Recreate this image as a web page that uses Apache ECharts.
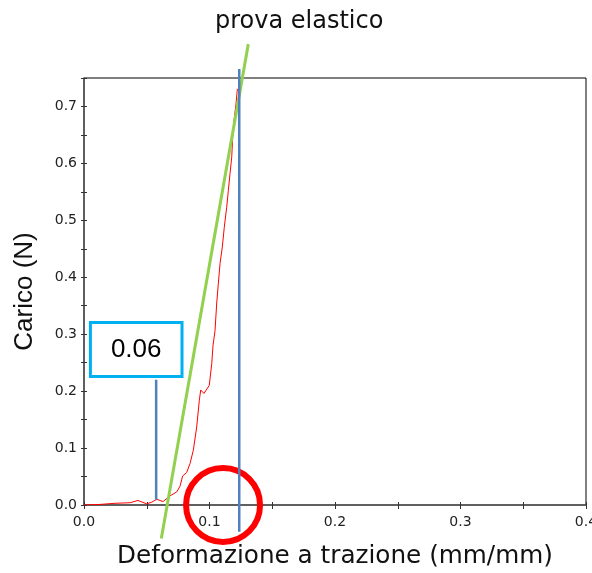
<!DOCTYPE html>
<html>
<head>
<meta charset="utf-8">
<script src="https://cdn.jsdelivr.net/npm/echarts@6/dist/echarts.min.js"></script>
<style>html,body{margin:0;padding:0;background:#fff}#c{width:592px;height:573px}</style>
</head>
<body>
<div id="c"></div>
<script>
// Red test curve: strain (mm/mm) vs load (N)
const strain = [0, 0.0127, 0.0247, 0.0367, 0.043, 0.050, 0.054, 0.058, 0.063, 0.0685, 0.0739, 0.0765, 0.0786, 0.0818, 0.0845, 0.0871, 0.0898, 0.0919, 0.093, 0.0956, 0.0998, 0.1018, 0.1028, 0.1044, 0.1057, 0.107, 0.1084, 0.1102, 0.1118, 0.1137, 0.115, 0.1163, 0.1177, 0.1185, 0.1195, 0.1211, 0.1222];
const load   = [0, 0.001, 0.003, 0.004, 0.008, 0.002, 0.005, 0.010, 0.006, 0.016, 0.023, 0.033, 0.051, 0.057, 0.073, 0.096, 0.137, 0.184, 0.202, 0.196, 0.210, 0.248, 0.280, 0.306, 0.353, 0.388, 0.424, 0.453, 0.488, 0.523, 0.552, 0.581, 0.611, 0.646, 0.675, 0.704, 0.731];
// Green tangent line endpoints
const greenX = [0.0616, 0.1309];
const greenY = [-0.059, 0.8095];
// Blue vertical markers
const blue1X = [0.0575, 0.0575];
const blue1Y = [0.0095, 0.22];
const blue2X = [0.1237, 0.1237];
const blue2Y = [-0.047, 0.766];
// Red circle highlight
const circleX = [0.1108];
const circleY = [0.0];
// Annotation box
const noteX = [0.0416];
const noteY = [0.273];
const noteText = ['0.06'];
// Texts
const titleText = 'prova elastico';
const xName = 'Deformazione a trazione (mm/mm)';
const yName = 'Carico (N)';

const pairs = (xs, ys) => xs.map((x, i) => [x, ys[i]]);
const fmt = v => (Math.round(v * 100) % 10 === 0 ? v.toFixed(1) : '');
const FONT = 'DejaVu Sans';

const chart = echarts.init(document.getElementById('c'), null, {renderer: 'canvas'});
chart.setOption({
  animation: false,
  backgroundColor: '#fff',
  title: {
    text: titleText, left: 210, top: 5,
    textStyle: {fontFamily: FONT, fontSize: 24, fontWeight: 'normal', color: '#111'}
  },
  grid: {left: 84, right: 6, top: 78, bottom: 68, show: true, borderColor: '#000', borderWidth: 1,
         containLabel: false, outerBoundsMode: 'none'},
  xAxis: [{
    type: 'value', min: 0, max: 0.4, interval: 0.05,
    name: xName, nameLocation: 'middle', nameGap: 39,
    nameTextStyle: {fontFamily: FONT, fontSize: 24.7, color: '#111'},
    axisLine: {show: true, lineStyle: {color: '#555', width: 1.5}},
    axisTick: {show: true, inside: false, length: 4, lineStyle: {color: '#333'}},
    axisLabel: {formatter: fmt, margin: 10, fontFamily: FONT, fontSize: 14, color: '#222'},
    splitLine: {show: false}
  }, {
    type: 'value', min: 0, max: 0.4, interval: 0.05, position: 'bottom',
    axisLine: {show: false}, axisLabel: {show: false}, splitLine: {show: false},
    axisTick: {show: true, inside: true, length: 3, lineStyle: {color: '#333'}}
  }],
  yAxis: [{
    type: 'value', min: 0, max: 0.75, interval: 0.05,
    name: yName, nameLocation: 'middle', nameGap: 46,
    nameTextStyle: {fontFamily: 'Liberation Sans', fontSize: 26, color: '#111'},
    axisLine: {show: true, lineStyle: {color: '#555', width: 1.5}},
    axisTick: {show: true, inside: false, length: 3, lineStyle: {color: '#333'}},
    axisLabel: {formatter: fmt, margin: 7, fontFamily: FONT, fontSize: 14, color: '#222'},
    splitLine: {show: false}
  }, {
    type: 'value', min: 0, max: 0.75, interval: 0.05, position: 'left',
    axisLine: {show: false}, axisLabel: {show: false}, splitLine: {show: false},
    axisTick: {show: true, inside: true, length: 3, lineStyle: {color: '#333'}}
  }],
  series: [
    {
      type: 'line', data: pairs(strain, load), showSymbol: false, symbol: 'none',
      lineStyle: {color: '#ff0000', width: 1}, z: 3
    },
    {
      type: 'line', data: pairs(greenX, greenY), showSymbol: false, symbol: 'none', clip: false,
      lineStyle: {color: '#92d050', width: 3}, z: 4
    },
    {
      type: 'scatter', data: pairs(circleX, circleY), symbol: 'circle', symbolSize: 74, clip: false,
      itemStyle: {color: 'rgba(0,0,0,0)', borderColor: '#ff0000', borderWidth: 6, opacity: 1}, z: 5, silent: true
    },
    {
      type: 'line', data: pairs(blue1X, blue1Y), showSymbol: false, symbol: 'none', clip: false,
      lineStyle: {color: '#4f81bd', width: 2.5}, z: 6
    },
    {
      type: 'line', data: pairs(blue2X, blue2Y), showSymbol: false, symbol: 'none', clip: false,
      lineStyle: {color: '#4f81bd', width: 2.5}, z: 6
    },
    {
      type: 'scatter', data: pairs(noteX, noteY), symbolSize: 0, clip: false, z: 7, silent: true,
      itemStyle: {opacity: 1},
      label: {
        show: true, position: 'inside', formatter: () => noteText[0],
        fontFamily: 'Liberation Sans', fontSize: 26, color: '#000', opacity: 1,
        backgroundColor: '#fff', borderColor: '#00b0f0', borderWidth: 3,
        padding: [13, 19, 12, 19]
      }
    }
  ]
});
</script>
</body>
</html>
